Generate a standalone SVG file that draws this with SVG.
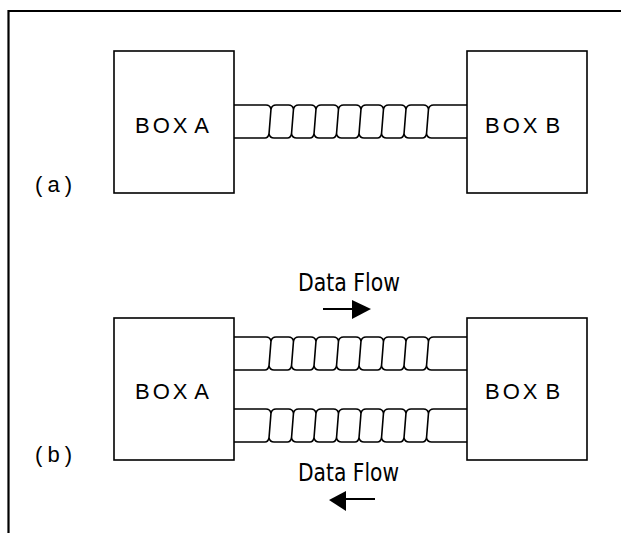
<svg xmlns="http://www.w3.org/2000/svg" width="621" height="533" viewBox="0 0 621 533">
<style>
.box{fill:#fff;stroke:#000;stroke-width:1.6}
.wire{fill:none;stroke:#000;stroke-width:1.6}
.lbl{font-family:"Liberation Sans",Arial,sans-serif;font-size:22px;fill:#000;letter-spacing:3px;word-spacing:-4px}
.flow{font-family:"DejaVu Sans Condensed","Liberation Sans",sans-serif;font-size:25px;fill:#000}
.part{font-family:"Liberation Sans",Arial,sans-serif;font-size:22px;fill:#000}
</style>
<defs>
<g id="twist">
<path class="wire" d="M233,0 H266 Q270,0 271,4 Q272,0 276,0 H288.5 Q292.5,0 293.5,4 Q294.5,0 298.5,0 H311 Q315,0 316,4 Q317,0 321,0 H333.5 Q337.5,0 338.5,4 Q339.5,0 343.5,0 H356 Q360,0 361,4 Q362,0 366,0 H378.5 Q382.5,0 383.5,4 Q384.5,0 388.5,0 H401 Q405,0 406,4 Q407,0 411,0 H423.5 Q427.5,0 428.5,4 Q429.5,0 433.5,0 H467"/>
<path class="wire" d="M233,33 H265 Q268,33 269,29 Q270,33 274,33 H287.5 Q290.5,33 291.5,29 Q292.5,33 296.5,33 H310 Q313,33 314,29 Q315,33 319,33 H332.5 Q335.5,33 336.5,29 Q337.5,33 341.5,33 H355 Q358,33 359,29 Q360,33 364,33 H377.5 Q380.5,33 381.5,29 Q382.5,33 386.5,33 H400 Q403,33 404,29 Q405,33 409,33 H422.5 Q425.5,33 426.5,29 Q427.5,33 431.5,33 H467"/>
<path class="wire" d="M271,4 L269,29 M293.5,4 L291.5,29 M316,4 L314,29 M338.5,4 L336.5,29 M361,4 L359,29 M383.5,4 L381.5,29 M406,4 L404,29 M428.5,4 L426.5,29"/>
</g>
</defs>
<rect width="621" height="533" fill="#fff"/>
<path d="M8.5,533 V11 H621" fill="none" stroke="#000" stroke-width="2.2"/>
<g id="connectors">
<use href="#twist" transform="translate(0,105)"/>
<use href="#twist" transform="translate(0,337)"/>
<use href="#twist" transform="translate(0,409)"/>
<path d="M323,309 H356" stroke="#000" stroke-width="2"/>
<polygon points="352,300 371,309 352,319" fill="#000"/>
<path d="M343,499 H375" stroke="#000" stroke-width="2"/>
<polygon points="346,491 329,500 346,511" fill="#000"/>
</g>
<g id="boxA-a"><rect class="box" x="114" y="51" width="120" height="142"/><text class="lbl" x="135" y="133">BOX A</text></g>
<g id="boxB-a"><rect class="box" x="467" y="51" width="120" height="142"/><text class="lbl" x="485" y="133">BOX B</text></g>
<g id="label-a"><text class="part" x="35" y="192" textLength="37">(a)</text></g>
<g id="boxA-b"><rect class="box" x="114" y="318" width="120" height="142"/><text class="lbl" x="135" y="399">BOX A</text></g>
<g id="boxB-b"><rect class="box" x="467" y="318" width="120" height="142"/><text class="lbl" x="485" y="399">BOX B</text></g>
<g id="label-b"><text class="part" x="35" y="462" textLength="37">(b)</text></g>
<g id="flow-top"><text class="flow" x="298" y="291" textLength="102" lengthAdjust="spacingAndGlyphs">Data Flow</text></g>
<g id="flow-bottom"><text class="flow" x="298" y="481" textLength="101" lengthAdjust="spacingAndGlyphs">Data Flow</text></g>
</svg>
